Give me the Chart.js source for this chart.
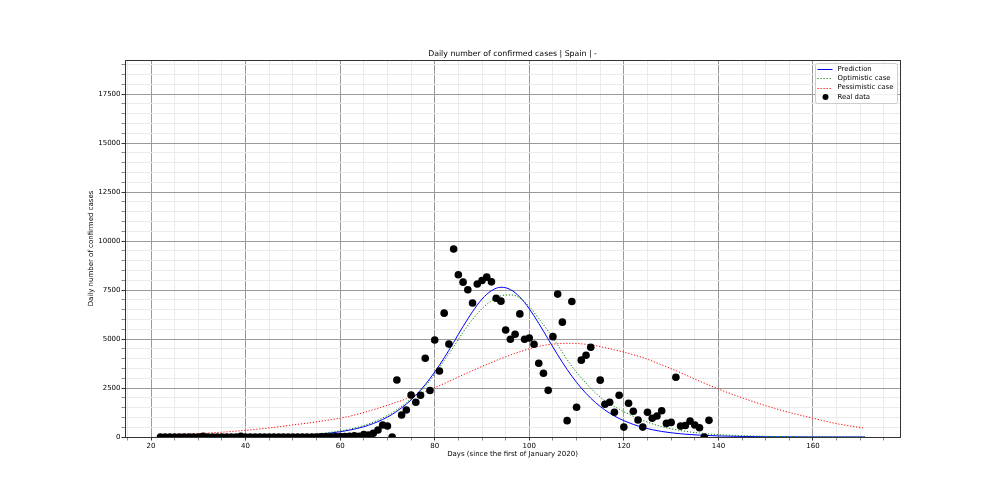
<!DOCTYPE html>
<html>
<head>
<meta charset="utf-8">
<title>Daily number of confirmed cases | Spain</title>
<script src="https://cdn.jsdelivr.net/npm/chart.js@4.4.0/dist/chart.umd.min.js"></script>
<style>
  html, body { margin: 0; padding: 0; background: #fff; }
  #wrap { width: 1000px; height: 500px; }
</style>
</head>
<body>
<div id="wrap"><canvas id="cases-chart" width="1000" height="500"></canvas></div>
<script>
// model curves, sampled days
const curveDays = [22, 26, 30, 34, 38, 42, 46, 50, 54, 58, 62, 66, 70, 72, 74, 76, 78, 80, 82, 84,
  86, 88, 90, 92, 94, 96, 98, 100, 102, 104, 106, 108, 110, 112, 114, 116, 118, 120, 124, 128,
  132, 136, 140, 145, 150, 155, 160, 165, 171];

const predictionCases = [1, 3, 4, 8, 13, 23, 40, 69, 119, 205, 352, 600, 1014, 1315, 1676, 2128, 2675, 3315, 4035, 4828,
  5640, 6395, 7036, 7465, 7640, 7525, 7138, 6540, 5800, 4993, 4193, 3446, 2786, 2225, 1756, 1378, 1073, 832, 487, 283,
  165, 95, 55, 28, 14, 7, 3, 2, 1];

const optimisticCases = [5, 8, 12, 18, 26, 38, 56, 90, 145, 240, 400, 670, 1100, 1400, 1750, 2150, 2600, 3200, 3900, 4600,
  5350, 6000, 6550, 6950, 7200, 7250, 7100, 6650, 6050, 5400, 4700, 3950, 3300, 2750, 2250, 1850, 1560, 1290, 850, 530,
  330, 200, 120, 65, 35, 18, 10, 5, 3];

const pessimisticCases = [100, 135, 175, 230, 300, 385, 490, 615, 740, 880, 1060, 1320, 1620, 1780, 1950, 2130, 2320, 2520, 2730, 2950,
  3170, 3390, 3600, 3800, 4000, 4180, 4350, 4500, 4620, 4710, 4760, 4780, 4770, 4730, 4660, 4560, 4450, 4330, 4050, 3680,
  3280, 2850, 2450, 2000, 1600, 1250, 960, 680, 450];

// real data, one value per day starting at day 22 (null = no report)
const firstRealDay = 22;
const realCases = [
  0, 0, 0, 0, 0, 0, 0, 0, 0, 40,
  0, 0, 0, 0, 0, 0, 0, 40, 0, 0,
  0, 0, 0, 0, 0, 0, 0, 0, 0, 0,
  0, 0, 0, 0, 5, 10, 15, 20, 25, 20,
  30, 60, 40, 120, 100, 190, 355, 610, 560, 0,
  2910, 1120, 1380, 2140, 1770, 2130, 4020, 2370, 4950, 3370,
  6320, 4740, 9590, 8280, 7900, 7510, 6840, 7810, 7985, 8155,
  7915, 7080, 6930, 5460, 4985, 5240, 6280, 4985, 5050, 4730,
  3760, 3250, 2380, 5120, 7290, 5860, 835, 6910, 1520, 3920,
  4170, 4580, null, 2900, 1670, 1770, 1260, 2130, 505, 1720,
  1310, 865, 505, 1260, 955, 1070, 1340, 695, 745, 3050,
  555, 590, 810, 610, 475, 0, 850
];

// axis limits and ticks
const xMin = 14.5, xMax = 178.4;
const yMin = 0, yMax = 19235;
const xMajorStep = 20, xMinorStep = 5;
const yMajorStep = 2500, yMinorStep = 500;

const chartTitle = "Daily number of confirmed cases | Spain | -";

const toPoints = (xs, ys) => xs.map((x, i) => ({ x: x, y: ys[i] }));

const realPoints = [];
realCases.forEach((v, i) => {
  if (v !== null) realPoints.push({ x: firstRealDay + i, y: v });
});

const majorGrid = "#9a9a9a";
const minorGrid = "#ebebeb";
const fontFamily = "'DejaVu Sans', sans-serif";

Chart.defaults.font.family = fontFamily;
Chart.defaults.font.size = 7;
Chart.defaults.color = "#000";

// frame round the plot area, and the title centred over it (matplotlib style)
const plotFrame = {
  id: "plotFrame",
  afterDatasetsDraw(chart) {
    const { ctx, chartArea: a } = chart;
    ctx.save();
    ctx.strokeStyle = "#333";
    ctx.lineWidth = 1;
    ctx.strokeRect(Math.round(a.left) + 0.5, Math.round(a.top) + 0.5,
      Math.round(a.right - a.left), Math.round(a.bottom - a.top));
    ctx.font = "7.8px " + fontFamily;
    ctx.fillStyle = "#000";
    ctx.textAlign = "center";
    ctx.textBaseline = "alphabetic";
    ctx.fillText(chartTitle, (a.left + a.right) / 2, a.top - 4);
    ctx.restore();
  }
};

// legend inside the upper right corner
const cornerLegend = {
  id: "cornerLegend",
  afterDraw(chart) {
    const { ctx, chartArea: a } = chart;
    const w = 82, h = 40;
    const x0 = Math.round(a.right - w - 3) + 0.5;
    const y0 = Math.round(a.top + 3) + 0.5;
    ctx.save();
    ctx.fillStyle = "rgba(255,255,255,0.85)";
    ctx.strokeStyle = "#cccccc";
    ctx.lineWidth = 1;
    ctx.beginPath();
    ctx.roundRect(x0, y0, w, h, 2);
    ctx.fill();
    ctx.stroke();

    ctx.font = "6.9px " + fontFamily;
    ctx.textBaseline = "middle";
    chart.data.datasets.forEach((ds, i) => {
      const y = y0 + 5.5 + i * 9.3;
      if (ds.showLine) {
        ctx.strokeStyle = ds.borderColor;
        ctx.lineWidth = 1;
        ctx.setLineDash(ds.borderDash || []);
        ctx.beginPath();
        ctx.moveTo(x0 + 2, Math.round(y) + 0.5);
        ctx.lineTo(x0 + 17, Math.round(y) + 0.5);
        ctx.stroke();
        ctx.setLineDash([]);
      } else {
        ctx.fillStyle = ds.backgroundColor;
        ctx.beginPath();
        ctx.arc(x0 + 10, y, 3, 0, Math.PI * 2);
        ctx.fill();
      }
      ctx.fillStyle = "#000";
      ctx.fillText(ds.label, x0 + 22, y);
    });
    ctx.restore();
  }
};

const isMajor = (v, step) => Math.abs(v / step - Math.round(v / step)) < 1e-6;

const ctx = document.getElementById("cases-chart").getContext("2d");
const casesChart = new Chart(ctx, {
  type: "scatter",
  data: {
    datasets: [
      {
        label: "Prediction",
        data: toPoints(curveDays, predictionCases),
        showLine: true,
        borderColor: "#0000ff",
        borderWidth: 1,
        pointRadius: 0,
        cubicInterpolationMode: "monotone",
        order: 3
      },
      {
        label: "Optimistic case",
        data: toPoints(curveDays, optimisticCases),
        showLine: true,
        borderColor: "#008000",
        borderWidth: 1,
        borderDash: [1.2, 1.8],
        pointRadius: 0,
        cubicInterpolationMode: "monotone",
        order: 2
      },
      {
        label: "Pessimistic case",
        data: toPoints(curveDays, pessimisticCases),
        showLine: true,
        borderColor: "#ff0000",
        borderWidth: 1,
        borderDash: [1.2, 1.8],
        pointRadius: 0,
        cubicInterpolationMode: "monotone",
        order: 1
      },
      {
        label: "Real data",
        data: realPoints,
        showLine: false,
        backgroundColor: "#000",
        borderColor: "#000",
        pointRadius: 3.8,
        pointBorderWidth: 0,
        clip: 0,
        order: 0
      }
    ]
  },
  options: {
    responsive: false,
    animation: false,
    devicePixelRatio: 1,
    layout: { padding: { left: 0, right: 100, top: 60, bottom: 0 } },
    plugins: {
      legend: { display: false },
      tooltip: { enabled: false },
      title: { display: false }
    },
    scales: {
      x: {
        type: "linear",
        min: xMin,
        max: xMax,
        afterFit: (scale) => { scale.height = 63; },
        afterBuildTicks: (scale) => {
          const ticks = [];
          for (let v = Math.ceil(xMin / xMinorStep) * xMinorStep; v <= xMax; v += xMinorStep) {
            ticks.push({ value: v });
          }
          scale.ticks = ticks;
        },
        ticks: {
          autoSkip: false,
          maxRotation: 0,
          padding: 1,
          callback: (v) => (isMajor(v, xMajorStep) ? v : "")
        },
        grid: {
          color: (c) => (c.tick && isMajor(c.tick.value, xMajorStep) ? majorGrid : minorGrid),
          tickColor: (c) => (c.tick && isMajor(c.tick.value, xMajorStep) ? "#333" : "#888"),
          tickLength: 3.5,
          lineWidth: 1
        },
        border: { color: "#333" },
        title: {
          display: true,
          text: "Days (since the first of January 2020)",
          color: "#000",
          font: { size: 7 },
          padding: { top: 0, bottom: 41.8 }
        }
      },
      y: {
        type: "linear",
        min: yMin,
        max: yMax,
        afterFit: (scale) => { scale.width = 125; },
        afterBuildTicks: (scale) => {
          const ticks = [];
          for (let v = yMin; v <= yMax; v += yMinorStep) ticks.push({ value: v });
          scale.ticks = ticks;
        },
        ticks: {
          autoSkip: false,
          padding: 1,
          callback: (v) => (isMajor(v, yMajorStep) ? v : "")
        },
        grid: {
          color: (c) => (c.tick && isMajor(c.tick.value, yMajorStep) ? majorGrid : minorGrid),
          tickColor: (c) => (c.tick && isMajor(c.tick.value, yMajorStep) ? "#333" : "#888"),
          tickLength: 3.5,
          lineWidth: 1
        },
        border: { color: "#333" },
        title: {
          display: true,
          text: "Daily number of confirmed cases",
          color: "#000",
          font: { size: 7 },
          padding: { top: 86.8, bottom: 0 }
        }
      }
    }
  },
  plugins: [plotFrame, cornerLegend]
});
</script>
</body>
</html>
